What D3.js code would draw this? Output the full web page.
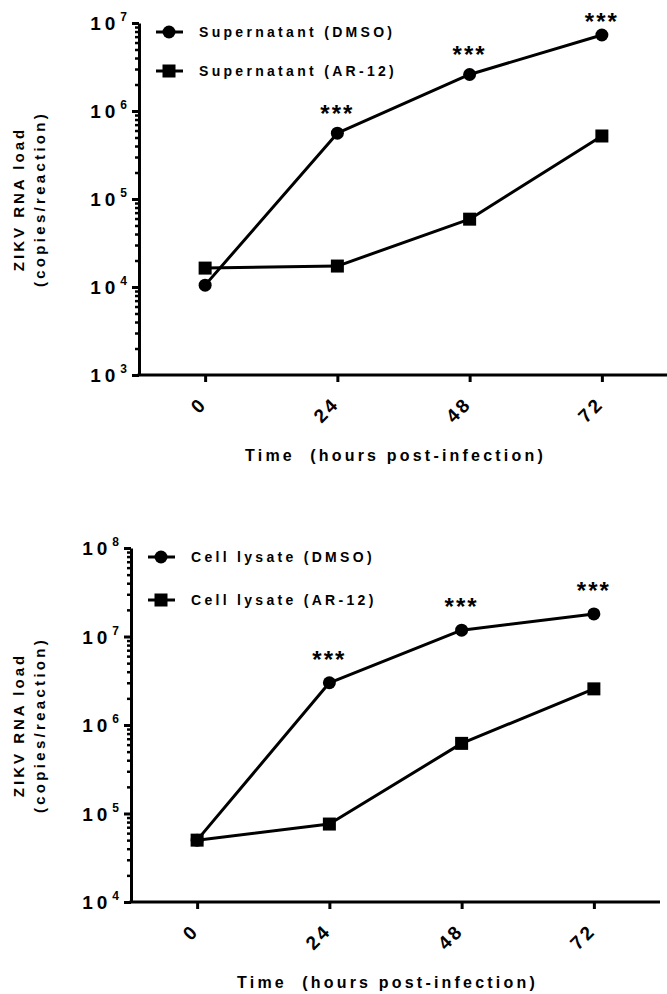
<!DOCTYPE html>
<html>
<head>
<meta charset="utf-8">
<script src="https://cdn.jsdelivr.net/npm/d3@7"></script>
<style>
  body { margin: 0; background: #fff; }
  svg { display: block; }
</style>
</head>
<body>
<div id="drawArea"></div>
<script>
// data
var times = [0, 24, 48, 72];
var timeTicks = ["0", "24", "48", "72"];
var supDmso = [1.05e4, 5.6e5, 2.6e6, 7.3e6];
var supAr12 = [1.64e4, 1.73e4, 5.9e4, 5.2e5];
var lysDmso = [5.0e4, 3.0e6, 1.18e7, 1.8e7];
var lysAr12 = [5.0e4, 7.6e4, 6.2e5, 2.56e6];
var supStars = ["", "***", "***", "***"];
var lysStars = ["", "***", "***", "***"];
var supLegend = ["Supernatant (DMSO)", "Supernatant (AR-12)"];
var lysLegend = ["Cell lysate (DMSO)", "Cell lysate (AR-12)"];
var supDecades = [3, 4, 5, 6, 7];
var lysDecades = [4, 5, 6, 7, 8];

var font = "Arial, 'Liberation Sans', Helvetica, sans-serif";
var W = 667, H = 994;

var svg = d3.select("#drawArea").append("svg")
  .attr("width", W)
  .attr("height", H);

function drawPanel(p) {
  var g = svg.append("g");

  var x = d3.scaleLinear().domain([-12, 84]).range([p.left, p.right]);
  var y = d3.scaleLog().domain([Math.pow(10, p.decades[0]), Math.pow(10, p.decades[p.decades.length - 1])])
    .range([p.bottom, p.top]);

  // minor ticks on the log axis
  var minors = [];
  for (var i = 0; i < p.decades.length - 1; i++) {
    for (var m = 2; m <= 9; m++) minors.push(m * Math.pow(10, p.decades[i]));
  }
  g.append("g")
    .attr("transform", "translate(" + p.left + ",0)")
    .call(d3.axisLeft(y).tickValues(minors).tickSize(4).tickSizeOuter(0).tickFormat(""))
    .call(function(a) {
      a.select(".domain").remove();
      a.selectAll("line").attr("stroke", "#000").attr("stroke-width", 2.5);
    });

  // y axis
  var yAxis = g.append("g")
    .attr("transform", "translate(" + p.left + ",0)")
    .call(d3.axisLeft(y)
      .tickValues(p.decades.map(function(d) { return Math.pow(10, d); }))
      .tickSize(7).tickSizeOuter(0).tickFormat(""));
  yAxis.select(".domain").attr("stroke", "#000").attr("stroke-width", 3);
  yAxis.selectAll("line").attr("stroke", "#000").attr("stroke-width", 3);
  yAxis.selectAll(".tick").each(function(d, i) {
    var t = d3.select(this).append("text")
      .attr("x", -p.labelGap)
      .attr("dy", "0.36em")
      .attr("fill", "#000")
      .attr("text-anchor", "end")
      .attr("font-family", font)
      .attr("font-weight", "bold")
      .attr("font-size", 19);
    t.append("tspan").attr("letter-spacing", 4).text("10");
    t.append("tspan").attr("font-size", 12).attr("dx", 1).attr("dy", "-0.75em").text(p.decades[i]);
  });

  // x axis
  var xAxis = g.append("g")
    .attr("transform", "translate(0," + p.bottom + ")")
    .call(d3.axisBottom(x).tickValues(times).tickSize(7).tickSizeOuter(0).tickFormat(""));
  xAxis.select(".domain").attr("stroke", "#000").attr("stroke-width", 3)
    .attr("d", "M" + (p.left - 1.5) + ",0H" + p.right);
  xAxis.selectAll("line").attr("stroke", "#000").attr("stroke-width", 3);
  xAxis.selectAll(".tick").append("text")
    .attr("transform", "translate(-2,25) rotate(-45)")
    .attr("text-anchor", "end")
    .attr("dy", "0.36em")
    .attr("fill", "#000")
    .attr("font-family", font)
    .attr("font-weight", "bold")
    .attr("font-size", 19)
    .attr("letter-spacing", 3)
    .text(function(d, i) { return timeTicks[i]; });

  // axis titles
  var midY = (p.top + p.bottom) / 2;
  g.append("text")
    .attr("transform", "translate(24," + midY + ") rotate(-90)")
    .attr("text-anchor", "middle")
    .attr("font-family", font).attr("font-weight", "bold")
    .attr("font-size", 15).attr("letter-spacing", 3)
    .text("ZIKV RNA load");
  g.append("text")
    .attr("transform", "translate(45," + midY + ") rotate(-90)")
    .attr("text-anchor", "middle")
    .attr("font-family", font).attr("font-weight", "bold")
    .attr("font-size", 15).attr("letter-spacing", 3.3)
    .text("(copies/reaction)");
  g.append("text")
    .attr("x", (p.left + p.right) / 2 - 8)
    .attr("y", p.bottom + 86)
    .attr("text-anchor", "middle")
    .attr("font-family", font).attr("font-weight", "bold")
    .attr("font-size", 16).attr("letter-spacing", 3.2)
    .attr("xml:space", "preserve")
    .text("Time  (hours post-infection)");

  var line = d3.line()
    .x(function(d, i) { return x(times[i]); })
    .y(function(d) { return y(d); });

  p.series.forEach(function(s) {
    g.append("path")
      .datum(s.values)
      .attr("d", line)
      .attr("fill", "none")
      .attr("stroke", "#000")
      .attr("stroke-width", 3)
      .attr("stroke-linejoin", "round");
  });

  // markers: squares under circles as in the figure
  p.series.slice().reverse().forEach(function(s) {
    var marks = g.selectAll(null).data(s.values).enter();
    if (s.shape == "circle") {
      marks.append("circle")
        .attr("cx", function(d, i) { return x(times[i]); })
        .attr("cy", function(d) { return y(d); })
        .attr("r", 6.5)
        .attr("fill", "#000");
    } else {
      marks.append("rect")
        .attr("x", function(d, i) { return x(times[i]) - 6.5; })
        .attr("y", function(d) { return y(d) - 6.5; })
        .attr("width", 13).attr("height", 13)
        .attr("fill", "#000");
    }
  });

  // significance stars above the DMSO points
  g.selectAll(null).data(p.stars).enter()
    .append("text")
    .attr("x", function(d, i) { return x(times[i]); })
    .attr("y", function(d, i) { return Math.max(y(p.series[0].values[i]) - p.starGap, 17) + 13; })
    .attr("text-anchor", "middle")
    .attr("font-family", font).attr("font-weight", "bold")
    .attr("font-size", 24).attr("letter-spacing", 2)
    .text(function(d) { return d; });

  // legend
  p.series.forEach(function(s, i) {
    var ly = p.legendY + i * p.legendStep;
    g.append("line")
      .attr("x1", p.legendX).attr("x2", p.legendX + 27)
      .attr("y1", ly).attr("y2", ly)
      .attr("stroke", "#000").attr("stroke-width", 3);
    var cx = p.legendX + 13;
    if (s.shape == "circle") {
      g.append("circle").attr("cx", cx).attr("cy", ly).attr("r", 6.5).attr("fill", "#000");
    } else {
      g.append("rect").attr("x", cx - 6.5).attr("y", ly - 6.5)
        .attr("width", 13).attr("height", 13).attr("fill", "#000");
    }
    g.append("text")
      .attr("x", p.legendX + 43)
      .attr("y", ly)
      .attr("dy", "0.36em")
      .attr("font-family", font).attr("font-weight", "bold")
      .attr("font-size", 14).attr("letter-spacing", 3.3)
      .text(s.name);
  });
}

drawPanel({
  left: 139, right: 668, top: 23, bottom: 375,
  decades: supDecades, labelGap: 12,
  series: [
    { name: supLegend[0], values: supDmso, shape: "circle" },
    { name: supLegend[1], values: supAr12, shape: "square" }
  ],
  stars: supStars, starGap: 24,
  legendX: 156, legendY: 32, legendStep: 39
});

drawPanel({
  left: 131, right: 660, top: 548, bottom: 902,
  decades: lysDecades, labelGap: 12,
  series: [
    { name: lysLegend[0], values: lysDmso, shape: "circle" },
    { name: lysLegend[1], values: lysAr12, shape: "square" }
  ],
  stars: lysStars, starGap: 28,
  legendX: 148, legendY: 557, legendStep: 43
});
</script>
</body>
</html>
